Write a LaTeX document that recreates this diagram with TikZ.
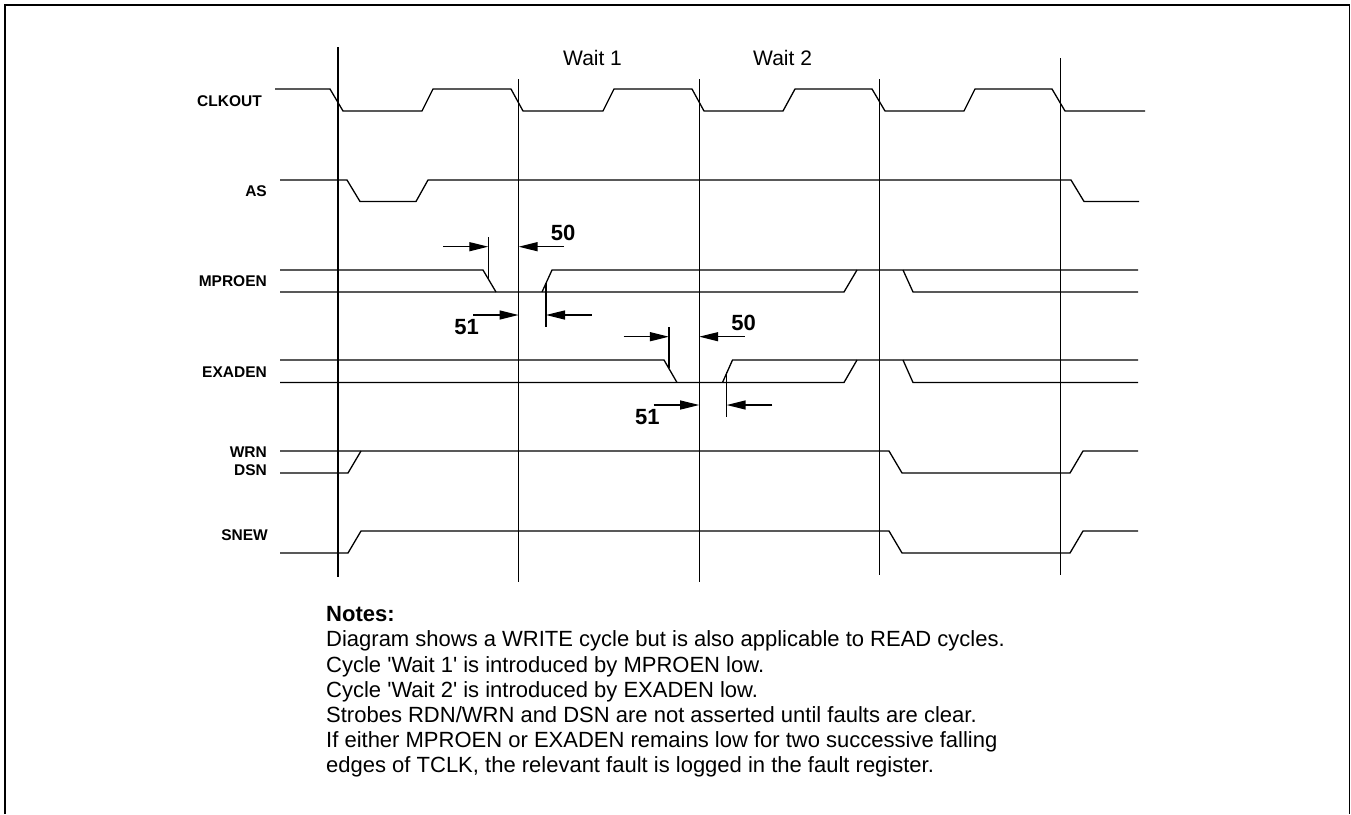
\documentclass[tikz,border=0pt]{standalone}
\usepackage{fontspec}
\setmainfont{Liberation Sans}
\usetikzlibrary{arrows.meta}

\begin{document}
\begin{tikzpicture}[
        x=1pt, y=-1pt,
        wave/.style={line width=1.3pt},
        cycline/.style={line width=1.2pt},
        frameline/.style={line width=1.5pt},
        tickline/.style={line width=1.3pt},
        dimarrow/.style={line width=1.3pt, -{Triangle[length=19pt, width=9pt]}},
        siglbl/.style={anchor=east, inner sep=0pt, font=\fontsize{15.5}{18}\selectfont\bfseries},
        dimlbl/.style={anchor=base, inner sep=0pt, font=\fontsize{22}{26}\selectfont\bfseries},
        waitlbl/.style={anchor=base west, inner sep=0pt, font=\fontsize{21}{25}\selectfont},
        notetext/.style={anchor=north west, inner sep=0pt, align=left,
                         font=\fontsize{22}{25.1}\selectfont}
    ]
        \useasboundingbox (0,0) rectangle (1351,814);
        \draw[frameline] (5,814) -- (5,5) -- (1349.5,5) -- (1349.5,814);

        % cycle boundaries
        \foreach \n/\x/\t/\b in {0/338/47/577, 1/518.6/79/582, 2/699.2/79/582,
                                 3/879.8/79/575, 4/1060.4/58/575} {
            \coordinate (top\n) at (\x,\t);
            \coordinate (bot\n) at (\x,\b);
            \draw[cycline] (top\n) -- (bot\n);
        }

        \node[waitlbl] (wait1) at (563,65) {Wait 1};
        \node[waitlbl] (wait2) at (753,65) {Wait 2};

        % signal names
        \node[siglbl] (clkout) at (262,101) {CLKOUT};
        \node[siglbl] (as)     at (267,191) {AS};
        \node[siglbl] (mproen) at (267,281.5) {MPROEN};
        \node[siglbl] (exaden) at (267,372) {EXADEN};
        \node[siglbl] (wrn)    at (267,452) {WRN};
        \node[siglbl] (dsn)    at (267,470.5) {DSN};
        \node[siglbl] (snew)   at (268,535) {SNEW};

        % CLKOUT
        \draw[wave] (275,89) -- (330,89) -- (343,111) -- (422,111) -- (433,89)
            -- (511,89) -- (523,111) -- (603,111) -- (614,89) -- (692,89) -- (704,111)
            -- (783,111) -- (795,89) -- (872,89) -- (885,111) -- (964,111) -- (975,89)
            -- (1052,89) -- (1065,111) -- (1145,111);

        % AS
        \draw[wave] (280,180) -- (347,180) -- (360,201.5) -- (416,201.5) -- (428,180)
            -- (1071,180) -- (1084,201.5) -- (1139,201.5);

        % MPROEN
        \draw[wave] (280,270) -- (483,270) -- (496,292);
        \draw[wave] (280,292) -- (844,292) -- (857,270);
        \draw[wave] (542,292) -- (552,270) -- (1138,270);
        \draw[wave] (903,270) -- (913,292) -- (1138,292);

        % EXADEN
        \draw[wave] (280,360) -- (664,360) -- (677,382.5);
        \draw[wave] (280,382.5) -- (844,382.5) -- (857,360);
        \draw[wave] (722.5,382.5) -- (732.5,360) -- (1138,360);
        \draw[wave] (903,360) -- (913,382.5) -- (1138,382.5);

        % WRN / DSN
        \draw[wave] (280,451) -- (889,451) -- (902,473) -- (1070,473) -- (1083,451)
            -- (1138,451);
        \draw[wave] (280,473) -- (348,473) -- (361,451);

        % SNEW
        \draw[wave] (280,553) -- (348,553) -- (361,531) -- (889,531) -- (902,553)
            -- (1070,553) -- (1083,531) -- (1138,531);

        % MPROEN timing
        \coordinate (mpfallA) at (488.3,237);
        \coordinate (mpfallB) at (488.3,278.5);
        \coordinate (mpriseA) at (546,282.5);
        \coordinate (mpriseB) at (546,327);
        \draw[tickline] (mpfallA) -- (mpfallB);
        \draw[tickline] (mpriseA) -- (mpriseB);
        \coordinate (mpsetupL) at (443,246.7);
        \coordinate (mpsetupR) at (564,246.7);
        \coordinate (mpholdL)  at (473,315);
        \coordinate (mpholdR)  at (591.7,315);
        \draw[dimarrow] (mpsetupL) -- (mpsetupL -| mpfallA);
        \draw[dimarrow] (mpsetupR) -- (mpsetupR -| top1);
        \draw[dimarrow] (mpholdL)  -- (mpholdL -| top1);
        \draw[dimarrow] (mpholdR)  -- (mpholdR -| mpriseA);
        \node[dimlbl] (mp50) at (563,240) {50};
        \node[dimlbl] (mp51) at (466.7,334) {51};

        % EXADEN timing
        \coordinate (exfallA) at (668.9,327);
        \coordinate (exfallB) at (668.9,367.8);
        \coordinate (exriseA) at (726.6,371.5);
        \coordinate (exriseB) at (726.6,417);
        \draw[tickline] (exfallA) -- (exfallB);
        \draw[tickline] (exriseA) -- (exriseB);
        \coordinate (exsetupL) at (623.5,336.7);
        \coordinate (exsetupR) at (744.6,336.7);
        \coordinate (exholdL)  at (653.6,405);
        \coordinate (exholdR)  at (772.3,405);
        \draw[dimarrow] (exsetupL) -- (exsetupL -| exfallA);
        \draw[dimarrow] (exsetupR) -- (exsetupR -| top2);
        \draw[dimarrow] (exholdL)  -- (exholdL -| top2);
        \draw[dimarrow] (exholdR)  -- (exholdR -| exriseA);
        \node[dimlbl] (ex50) at (743.5,330) {50};
        \node[dimlbl] (ex51) at (647.3,424) {51};

        % notes
        \node[notetext] (notes) at (326,606.5) {\textbf{Notes:}\\
            Diagram shows a WRITE cycle but is also applicable to READ cycles.\\
            Cycle \textquotesingle Wait 1\textquotesingle{} is introduced by MPROEN low.\\
            Cycle \textquotesingle Wait 2\textquotesingle{} is introduced by EXADEN low.\\
            Strobes RDN/WRN and DSN are not asserted until faults are clear.\\
            If either MPROEN or EXADEN remains low for two successive falling\\
            edges of TCLK, the relevant fault is logged in the fault register.};
    \end{tikzpicture}
\end{document}
